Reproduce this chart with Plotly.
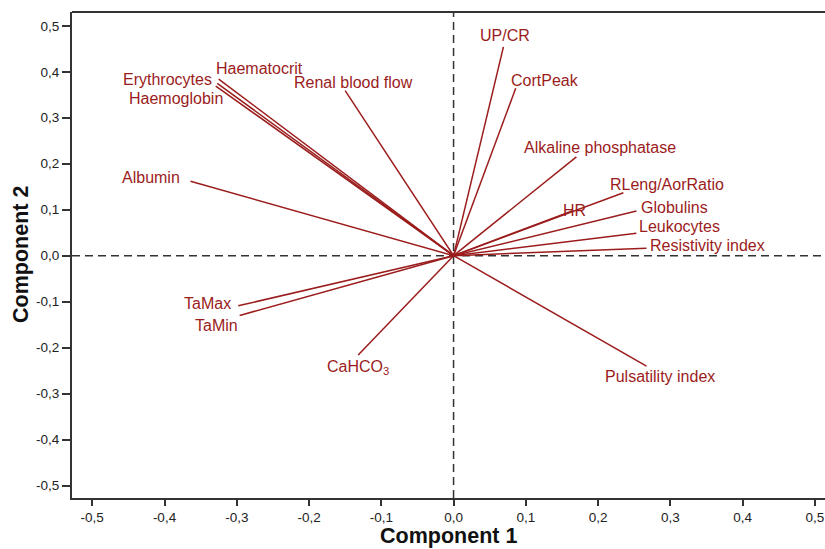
import plotly.graph_objects as go

# ---- data ----
variables = ["UP/CR", "CortPeak", "Alkaline phosphatase", "RLeng/AorRatio", "HR",
             "Globulins", "Leukocytes", "Resistivity index", "Pulsatility index",
             "CaHCO<sub>3</sub>", "TaMax", "TaMin", "Albumin", "Haematocrit",
             "Erythrocytes", "Haemoglobin", "Renal blood flow"]
component1 = [0.069, 0.086, 0.170, 0.235, 0.165, 0.253, 0.253, 0.267, 0.267,
              -0.132, -0.298, -0.296, -0.364, -0.325, -0.327, -0.329, -0.150]
component2 = [0.454, 0.364, 0.215, 0.137, 0.098, 0.097, 0.049, 0.016, -0.240,
              -0.216, -0.109, -0.130, 0.162, 0.384, 0.375, 0.369, 0.359]
tick_values = [-0.5, -0.4, -0.3, -0.2, -0.1, 0.0, 0.1, 0.2, 0.3, 0.4, 0.5]
tick_labels = ["-0,5", "-0,4", "-0,3", "-0,2", "-0,1", "0,0", "0,1", "0,2", "0,3", "0,4", "0,5"]

# ---- label placement (pixel offsets of label centre from vector end) ----
label_shift = [(2, 11), (29, 8), (24, 9), (44, 8), (2, 0),
               (38, 4), (43, 6.5), (61, 2.5), (13, -10),
               (0, -12.5), (-31, 2), (-23, -9.6), (-39.5, 3.5), (40.5, 11),
               (-50, 4), (-39.5, -12.3), (8, 7.7)]

RED = "#9b1c1c"
AXIS = "#333333"
FONT = "Liberation Sans, Arial, sans-serif"

xs, ys = [], []
for a, b in zip(component1, component2):
    xs += [0, a, None]
    ys += [0, b, None]

fig = go.Figure()
fig.add_trace(go.Scatter(x=xs, y=ys, mode="lines",
                         line=dict(color=RED, width=1.5),
                         hoverinfo="skip", showlegend=False))

for name, a, b, (dx, dy) in zip(variables, component1, component2, label_shift):
    fig.add_annotation(x=a, y=b, text=name, showarrow=False,
                       xanchor="center", yanchor="middle",
                       xshift=dx, yshift=dy,
                       font=dict(family=FONT, size=16, color=RED))

# axis titles
fig.add_annotation(xref="paper", yref="paper", x=0.5, y=0, yshift=-38,
                   xanchor="center", yanchor="middle", showarrow=False,
                   borderpad=0, text="<b>Component 1</b>",
                   font=dict(family=FONT, size=21.5, color="#111"))
fig.add_annotation(xref="paper", yref="paper", x=0, y=0.5, xshift=-51,
                   xanchor="center", yanchor="middle", showarrow=False,
                   borderpad=0, textangle=-90, text="<b>Component 2</b>",
                   font=dict(family=FONT, size=21.5, color="#111"))

# dashed reference lines
fig.add_shape(type="line", xref="x", yref="paper", x0=0, x1=0, y0=0, y1=1,
              line=dict(color=AXIS, width=1.5, dash="8px,5px"), layer="below")
fig.add_shape(type="line", xref="paper", yref="y", x0=0, x1=1, y0=0, y1=0,
              line=dict(color=AXIS, width=1.5, dash="8px,5px"), layer="below")
# top frame line
fig.add_shape(type="line", xref="paper", yref="paper", x0=0, x1=1, y0=1, y1=1,
              line=dict(color=AXIS, width=2))

fig.update_xaxes(range=[-0.528, 0.514], tickvals=tick_values, ticktext=tick_labels,
                 showgrid=False, zeroline=False, showline=True, linecolor=AXIS,
                 linewidth=2, ticks="outside", ticklen=6, tickwidth=1.5,
                 tickcolor=AXIS, tickfont=dict(family=FONT, size=13.5, color="#222"))
fig.update_yaxes(range=[-0.527, 0.530], tickvals=tick_values, ticktext=tick_labels,
                 showgrid=False, zeroline=False, showline=True, linecolor=AXIS,
                 linewidth=2, ticks="outside", ticklen=8, tickwidth=1.5,
                 tickcolor=AXIS, tickfont=dict(family=FONT, size=13.5, color="#222"))

fig.update_layout(width=825, height=549,
                  margin=dict(l=72, r=0, t=12, b=51),
                  plot_bgcolor="white", paper_bgcolor="white",
                  showlegend=False)

fig.write_html("out.html")
